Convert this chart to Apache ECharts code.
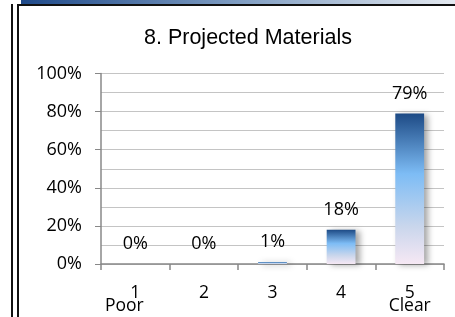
<!DOCTYPE html>
<html>
<head>
<meta charset="utf-8">
<script src="https://cdn.jsdelivr.net/npm/echarts@6/dist/echarts.min.js"></script>
<style>
html,body{margin:0;padding:0;background:#fff;}
#chart{width:455px;height:317px;}
</style>
</head>
<body>
<div id="chart"></div>
<script>
var categories = ['1\nPoor', '2', '3', '4', '5\nClear'];
var values = [0, 0, 1, 18, 79];
var yTicks = [0, 20, 40, 60, 80, 100];
var titleText = '8. Projected Materials';

var chart = echarts.init(document.getElementById('chart'), null, {renderer: 'canvas'});
var barGradient = new echarts.graphic.LinearGradient(0, 0, 0, 1, [
  {offset: 0, color: '#1d4a85'},
  {offset: 0.4, color: '#7dbcf5'},
  {offset: 0.75, color: '#c9d6ec'},
  {offset: 1, color: '#f6e8f4'}
]);
chart.setOption({
  animation: false,
  title: {
    text: titleText,
    left: 139, top: 22,
    textStyle: {fontFamily: 'Liberation Sans', fontSize: 21.5, fontWeight: 'normal', color: '#000'}
  },
  grid: {left: 101, right: 11, top: 73.5, bottom: 53},
  xAxis: {
    type: 'category',
    data: categories,
    axisLine: {lineStyle: {color: '#888', width: 1.5}},
    axisTick: {show: true, length: 6, lineStyle: {color: '#888', width: 1.5}},
    axisLabel: {fontFamily: 'Open Sans', fontSize: 17.5, color: '#000', lineHeight: 13.5, margin: 22,
      interval: 0, hideOverlap: false,
      formatter: function (v) {
        var parts = v.split('\n');
        if (parts[1] === 'Poor') return parts[0] + '\n{p|' + parts[1] + '}';
        return v;
      },
      rich: {p: {fontFamily: 'Open Sans', fontSize: 17.5, color: '#000', lineHeight: 13.5, padding: [0, 22, 0, 0]}}
    }
  },
  yAxis: {
    type: 'value',
    min: 0, max: 100, interval: 20,
    axisLine: {show: true, lineStyle: {color: '#888', width: 1.5}},
    axisTick: {show: true, length: 6, lineStyle: {color: '#888', width: 1}},
    axisLabel: {fontFamily: 'Open Sans', fontSize: 18, color: '#000', margin: 19,
      formatter: function (v) { return yTicks.indexOf(v) >= 0 ? v + '%' : ''; }},
    splitLine: {lineStyle: {color: '#c4c4c4', width: 1.2}},
    minorTick: {show: false, splitNumber: 2},
    minorSplitLine: {show: true, lineStyle: {color: '#c4c4c4', width: 1.2}}
  },
  series: [{
    type: 'bar',
    data: values,
    barWidth: '42%',
    itemStyle: {color: barGradient, shadowColor: 'rgba(0,0,0,0.35)', shadowBlur: 6, shadowOffsetX: 4, shadowOffsetY: 1},
    label: {show: true, position: 'top', distance: 11, formatter: '{c}%',
      fontFamily: 'Open Sans', fontSize: 18, color: '#000'}
  }],
  graphic: [
    {type: 'rect', shape: {x: 21, y: 0, width: 434, height: 4}, z: 100,
      style: {fill: new echarts.graphic.LinearGradient(0, 0, 1, 0, [
        {offset: 0, color: '#1f4a8a'}, {offset: 0.5, color: '#7f9dc2'}, {offset: 1, color: '#e4e9f0'}])}},
    {type: 'rect', shape: {x: 17, y: 4, width: 438, height: 2}, z: 100, style: {fill: '#111'}},
    {type: 'rect', shape: {x: 17, y: 4, width: 2, height: 313}, z: 100, style: {fill: '#111'}},
    {type: 'rect', shape: {x: 11, y: 4, width: 2, height: 313}, z: 100, style: {fill: '#111'}}
  ]
});
</script>
</body>
</html>
